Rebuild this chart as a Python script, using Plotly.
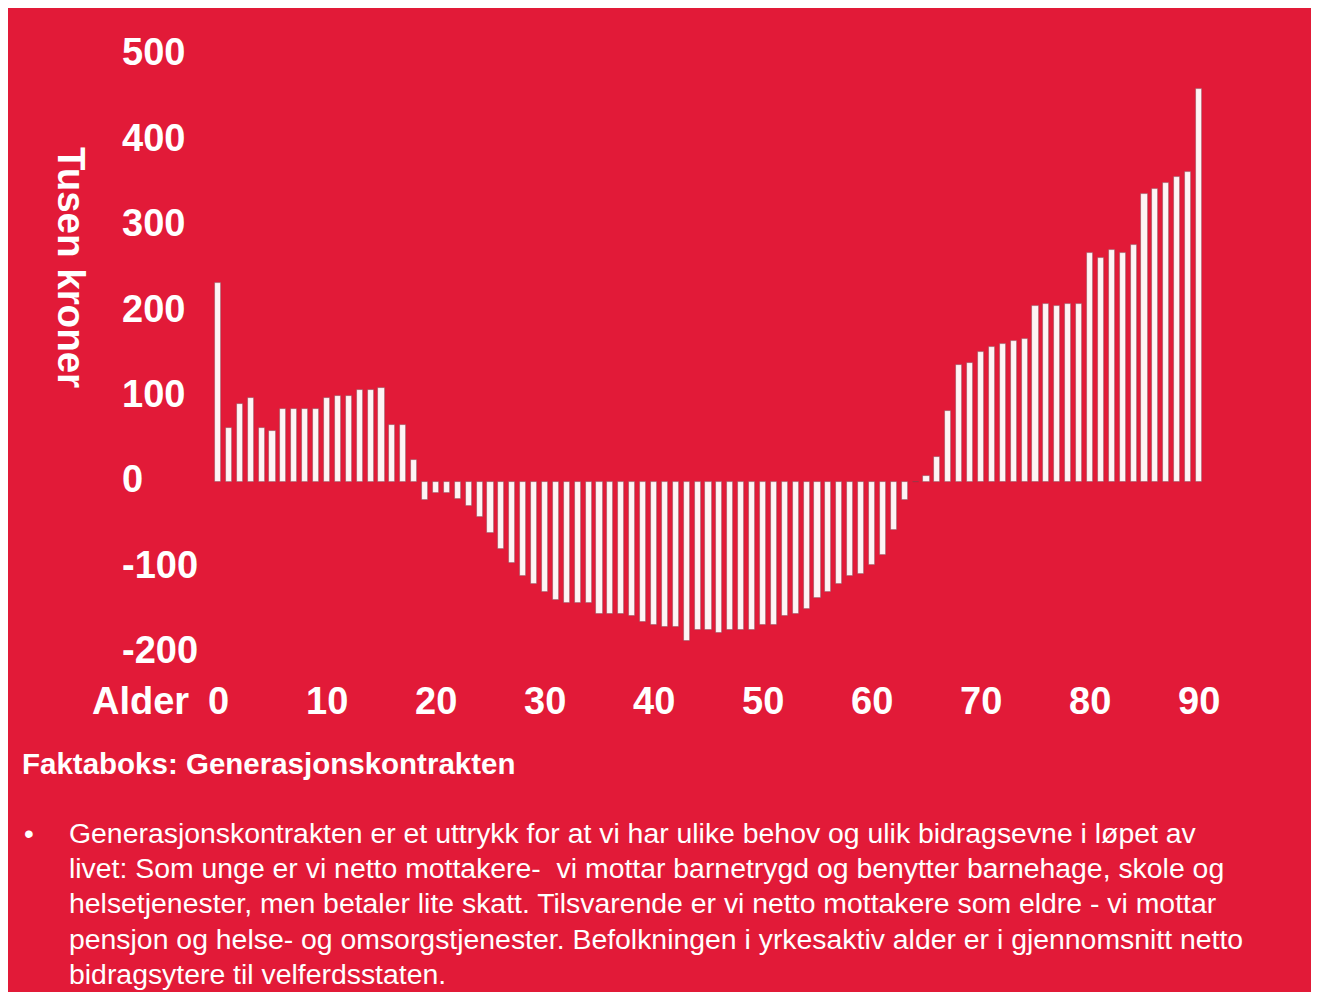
import plotly.graph_objects as go

# ---------------- data ----------------
ages = list(range(0, 91))
values = [
    233, 64, 92, 99, 64, 60, 86, 86, 86, 86,
    99, 101, 101, 108, 108, 111, 67, 67, 26, -21,
    -12, -12, -19, -28, -41, -59, -78, -94, -110, -119,
    -129, -138, -141, -141, -141, -154, -154, -154, -157, -163,
    -167, -170, -170, -186, -173, -173, -176, -173, -173, -173,
    -167, -167, -157, -154, -148, -135, -128, -119, -110, -107,
    -97, -85, -56, -21, 0, 7, 30, 83, 137, 140,
    152, 158, 162, 165, 168, 206, 209, 206, 209, 209,
    269, 263, 272, 269, 278, 338, 344, 351, 357, 363,
    461,
]
y_ticks = [500, 400, 300, 200, 100, 0, -100, -200]
x_ticks = [0, 10, 20, 30, 40, 50, 60, 70, 80, 90]
x_label_prefix = "Alder"
y_title = "Tusen kroner"
box_title = "Faktaboks: Generasjonskontrakten"
body_lines = [
    "Generasjonskontrakten er et uttrykk for at vi har ulike behov og ulik bidragsevne i løpet av",
    "livet: Som unge er vi netto mottakere-\u00a0 vi mottar barnetrygd og benytter barnehage, skole og",
    "helsetjenester, men betaler lite skatt. Tilsvarende er vi netto mottakere som eldre - vi mottar",
    "pensjon og helse- og omsorgstjenester. Befolkningen i yrkesaktiv alder er i gjennomsnitt netto",
    "bidragsytere til velferdsstaten.",
]

# ---------------- layout geometry (page pixels) ----------------
PAGE_OFF = 8                 # browser body margin
W_FIG, H_FIG = 1305, 992
L_PAGE, T_PAGE = 190, 38     # plot area top-left on the page
PW, PH = 1040, 632
L = L_PAGE - PAGE_OFF
T = T_PAGE - PAGE_OFF
R = W_FIG - L - PW
B = H_FIG - T - PH
PX_PER_YEAR = 10.9
AGE0_PX = 218
PX_PER_UNIT = 0.854
ZERO_PX = 482.3

x_lo = -(AGE0_PX - L_PAGE) / PX_PER_YEAR
x_hi = x_lo + PW / PX_PER_YEAR
y_hi = (ZERO_PX - T_PAGE) / PX_PER_UNIT
y_lo = -(T_PAGE + PH - ZERO_PX) / PX_PER_UNIT


def px_x(px):
    return (px - L_PAGE) / PW


def px_y(py):
    return (T_PAGE + PH - py) / PH


RED = "#E21A38"
FONT = "Liberation Sans, Arial, Helvetica, sans-serif"

fig = go.Figure()
fig.add_trace(go.Bar(
    x=ages, y=values, width=0.56,
    marker=dict(color="#FEF4F5", line=dict(color="rgba(120,70,80,0.55)", width=0.8)),
    hoverinfo="x+y", showlegend=False,
))

annotations = []
for v in y_ticks:
    annotations.append(dict(
        x=px_x(120), xref="paper", y=v, yref="y", text=f"<b>{v}</b>",
        xanchor="left", yanchor="middle", yshift=3, showarrow=False,
        font=dict(family=FONT, size=38, color="white"),
    ))
for v in x_ticks:
    annotations.append(dict(
        x=v, xref="x", y=px_y(701), yref="paper", text=f"<b>{v}</b>",
        xanchor="center", yanchor="middle", showarrow=False,
        font=dict(family=FONT, size=38, color="white"),
    ))
annotations.append(dict(
    x=px_x(191), xref="paper", y=px_y(701), yref="paper", text=f"<b>{x_label_prefix}</b>",
    xanchor="right", yanchor="middle", showarrow=False,
    font=dict(family=FONT, size=38, color="white"),
))
annotations.append(dict(
    x=px_x(72), xref="paper", y=px_y(267), yref="paper", text=f"<b>{y_title}</b>",
    textangle=90, xanchor="center", yanchor="middle", showarrow=False,
    font=dict(family=FONT, size=38.5, color="white"),
))
annotations.append(dict(
    x=px_x(20), xref="paper", y=px_y(763), yref="paper", text=f"<b>{box_title}</b>",
    xanchor="left", yanchor="middle", showarrow=False,
    font=dict(family=FONT, size=29.5, color="white"),
))
annotations.append(dict(
    x=px_x(22), xref="paper", y=px_y(833), yref="paper", text="•",
    xanchor="left", yanchor="middle", showarrow=False,
    font=dict(family=FONT, size=28, color="white"),
))
for i, line in enumerate(body_lines):
    annotations.append(dict(
        x=px_x(67), xref="paper", y=px_y(833 + 35.2 * i), yref="paper", text=line,
        xanchor="left", yanchor="middle", showarrow=False,
        font=dict(family=FONT, size=28.4, color="white"),
    ))

fig.update_layout(
    width=W_FIG, height=H_FIG,
    margin=dict(l=L, r=R, t=T, b=B, pad=0),
    paper_bgcolor=RED, plot_bgcolor="rgba(0,0,0,0)",
    xaxis=dict(range=[x_lo, x_hi], showgrid=False, zeroline=False, showticklabels=False,
               ticks="", showline=False, fixedrange=True),
    yaxis=dict(range=[y_lo, y_hi], showgrid=False, zeroline=False, showticklabels=False,
               ticks="", showline=False, fixedrange=True),
    bargap=0,
    annotations=annotations,
)

fig.write_html("out.html")
